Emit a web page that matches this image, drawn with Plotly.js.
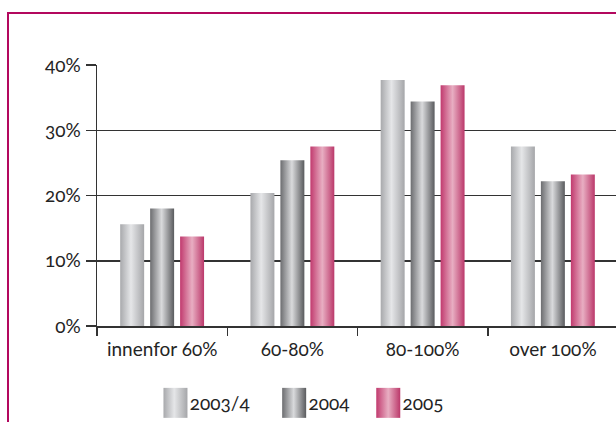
<!DOCTYPE html>
<html><head><meta charset="utf-8">
<script src="https://cdn.plot.ly/plotly-3.0.1.min.js"></script>
<style>
html,body{margin:0;padding:0;overflow:hidden;background:#fff;width:616px;height:422px;}
#frame{position:absolute;left:7px;top:12px;width:800px;height:600px;border-left:2.5px solid #b3085e;border-top:2.5px solid #b3085e;}
#chart{position:absolute;left:0;top:0;width:640px;height:422px;}
.main-svg text{font-variant-numeric:oldstyle-nums;font-feature-settings:"onum" 1;}
</style></head><body>
<div id="frame"></div><div id="chart"></div>
<script>
const categories = ['innenfor 60%', '60-80%', '80-100%', 'over 100%'];
const seriesNames = ['2003/4', '2004', '2005'];
const values2003_4 = [0.156, 0.204, 0.377, 0.275];
const values2004 = [0.180, 0.254, 0.344, 0.222];
const values2005 = [0.137, 0.275, 0.369, 0.232];
const yTickValues = [0, 0.1, 0.2, 0.3, 0.4];
const yTickLabels = ['0%', '10%', '20%', '30%', '40%'];

const gradientStops = [
  [['0', '#a8a9ac'], ['0.45', '#e5e6e8'], ['1', '#a5a6a9']],
  [['0', '#6c6d70'], ['0.48', '#d9dadc'], ['1', '#5a5b5e']],
  [['0', '#c13a6e'], ['0.5', '#e8aec2'], ['1', '#bb386a']]
];
const fallback = ['#c8c9cb', '#9a9b9e', '#d06f95'];
const legendExtraShift = [0, 10, 15];
const seriesValues = [values2003_4, values2004, values2005];

const FONT = 'Lato, "Open Sans", sans-serif';
const TXT = '#242424';
const traces = seriesNames.map((name, i) => ({
  type: 'bar', name: name, x: categories, y: seriesValues[i],
  marker: {color: fallback[i], line: {width: 0}},
  hoverinfo: 'none'
}));

const layout = {
  width: 640, height: 422,
  margin: {l: 97, r: 22, t: 65, b: 96},
  paper_bgcolor: 'rgba(0,0,0,0)', plot_bgcolor: 'rgba(0,0,0,0)',
  font: {family: FONT, size: 19, color: TXT},
  barmode: 'group', bargap: 0.31, bargroupgap: 0.2,
  showlegend: true,
  legend: {orientation: 'h', xref: 'container', yref: 'container', x: 0.234, xanchor: 'left',
           y: 0.045, yanchor: 'middle', font: {family: FONT, size: 19, color: TXT},
           itemclick: false, itemdoubleclick: false, bgcolor: 'rgba(0,0,0,0)'},
  xaxis: {type: 'category', range: [-0.5, 3.5], showline: true, linecolor: '#333', linewidth: 1.5,
          ticks: 'outside', tickson: 'boundaries', ticklen: 8, tickwidth: 1.5, tickcolor: '#333',
          ticklabelstandoff: 6, showgrid: false, zeroline: false, fixedrange: true,
          tickfont: {family: FONT, size: 19, color: TXT}},
  yaxis: {range: [0, 0.4], tickvals: yTickValues, ticktext: yTickLabels, showline: true,
          linecolor: '#333', linewidth: 1.5, ticks: 'outside', ticklen: 10, tickwidth: 1.5, tickcolor: '#333',
          showgrid: true, gridcolor: '#333', gridwidth: 1.5, zeroline: false, fixedrange: true,
          ticklabelstandoff: 1, tickfont: {family: FONT, size: 19, color: TXT}}
};

const gd = document.getElementById('chart');
function applyStyles() {
  const svg = gd.querySelector('.main-svg');
  let defs = svg.querySelector('defs');
  if (!defs) { defs = document.createElementNS('http://www.w3.org/2000/svg', 'defs'); svg.insertBefore(defs, svg.firstChild); }
  gradientStops.forEach((stops, i) => {
    if (document.getElementById('barGrad' + i)) return;
    const lg = document.createElementNS('http://www.w3.org/2000/svg', 'linearGradient');
    lg.setAttribute('id', 'barGrad' + i);
    lg.setAttribute('x1', '0'); lg.setAttribute('y1', '0'); lg.setAttribute('x2', '1'); lg.setAttribute('y2', '0');
    stops.forEach(s => {
      const st = document.createElementNS('http://www.w3.org/2000/svg', 'stop');
      st.setAttribute('offset', s[0]); st.setAttribute('stop-color', s[1]);
      lg.appendChild(st);
    });
    defs.appendChild(lg);
  });
  gd.querySelectorAll('.barlayer .trace.bars').forEach((tr, i) => {
    tr.querySelectorAll('path').forEach(p => { p.style.fill = 'url(#barGrad' + i + ')'; });
  });
  gd.querySelectorAll('.legend .traces').forEach((tr, i) => {
    tr.querySelectorAll('.legendpoints path').forEach(p => {
      p.setAttribute('d', 'M17.7,15H-6.3V-15H17.7Z');
      p.style.fill = 'url(#barGrad' + i + ')';
      p.style.stroke = 'none';
    });
    if (!tr.dataset.origTransform) tr.dataset.origTransform = tr.getAttribute('transform') || '';
    tr.setAttribute('transform', tr.dataset.origTransform + ' translate(' + (legendExtraShift[i] || 0) + ',0)');
  });
  gd.querySelectorAll('.legend .scrollbox, .legend').forEach(el => el.removeAttribute('clip-path'));
}
Plotly.newPlot(gd, traces, layout, {displayModeBar: false, staticPlot: true}).then(() => {
  applyStyles();
  gd.on('plotly_afterplot', applyStyles);
  setTimeout(applyStyles, 50);
});
</script>
</body></html>
